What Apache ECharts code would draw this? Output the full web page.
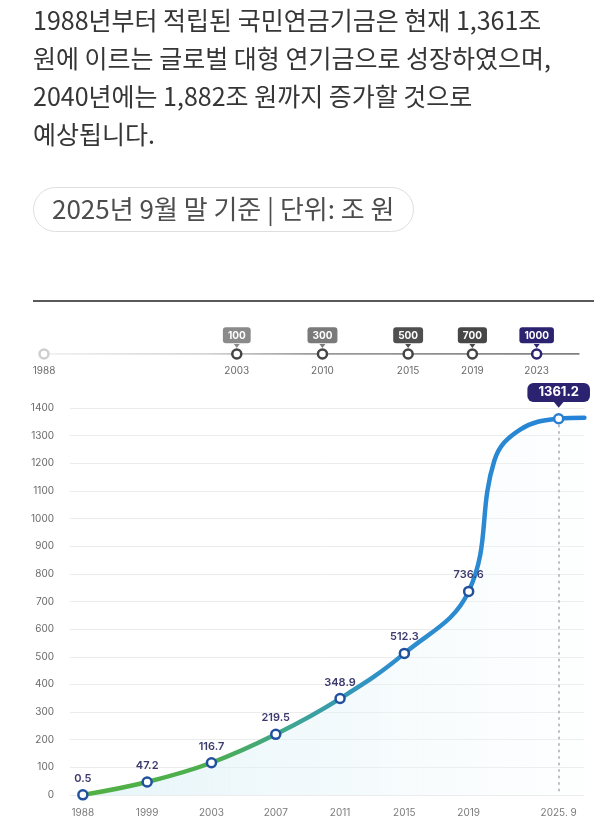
<!DOCTYPE html>
<html>
<head>
<meta charset="utf-8">
<script src="https://cdn.jsdelivr.net/npm/echarts@6/dist/echarts.min.js"></script>
<style>
  html, body { margin: 0; padding: 0; background: #fff; }
  #chart { width: 600px; height: 839px; }
</style>
</head>
<body>
<div id="chart"></div>
<script>
// 기금 적립금 (조 원)
var mainYears = ['1988', '1999', '2003', '2007', '2011', '2015', '2019', '2025. 9'];
var fundValues = [0.5, 47.2, 116.7, 219.5, 348.9, 512.3, 736.6, 1361.2];
var yearGaps = [5, 5, 5, 5, 5, 5, 7]; // 축 칸 수 (라벨 사이)
// 2019 이후 곡선 모양 (읽은 값)
var curveShape = [[33, 1210], [35, 1322], [40, 1365]];
var yTicks = [0, 1400, 100];

// 상단 타임라인
var milestoneYears = ['1988', '2003', '2010', '2015', '2019', '2023'];
var milestoneLabels = ['', '100', '300', '500', '700', '1000'];
var milestoneGaps = [9, 4, 4, 3, 3];
var badgeColors = ['#cccccc', '#8a8a8a', '#7a7a7a', '#4f4f4f', '#474747', '#2b2270'];

var textLines = [
	'1988년부터 적립된 국민연금기금은 현재 1,361조',
	'원에 이르는 글로벌 대형 연기금으로 성장하였으며,',
	'2040년에는 1,882조 원까지 증가할 것으로',
	'예상됩니다.'
];
var pillText = '2025년 9월 말 기준 | 단위: 조 원';

function buildCats(labels, gaps, lead, tail) {
	var cats = [];
	var idx = [];
	for (var i = 0; i < lead; i++) cats.push('');
	for (var j = 0; j < labels.length; j++) {
		idx.push(cats.length);
		cats.push(labels[j]);
		if (j < gaps.length) {
			for (var k = 1; k < gaps[j]; k++) cats.push('');
		}
	}
	for (var t = 0; t < tail; t++) cats.push('');
	return { cats: cats, idx: idx };
}

var mainAxis = buildCats(mainYears, yearGaps, 1, 2);
var lineAxis = buildCats(milestoneYears, milestoneGaps, 0, 2);

var linePoints = mainAxis.idx.map(function(x, i) { return [x, fundValues[i]]; })
	.concat(curveShape)
	.sort(function(a, b) { return a[0] - b[0]; });

var lastI = fundValues.length - 1;
var markerData = mainAxis.idx.map(function(x, i) {
	var item = { value: [x, fundValues[i]] };
	if (i === lastI) {
		item.itemStyle = { borderColor: '#2a7fd0' };
		item.label = {
			distance: 11,
			color: '#fff',
			fontSize: 13,
			fontWeight: 'bold',
			lineHeight: 13,
			backgroundColor: '#2b2270',
			borderRadius: 6,
			padding: [3, 11]
		};
	}
	return item;
});

var badgeData = lineAxis.idx.map(function(x, i) {
	var item = {
		value: [x, 0],
		itemStyle: { borderColor: i === 0 ? '#cfcfcf' : (i === lineAxis.idx.length - 1 ? '#2b2270' : '#444') }
	};
	if (milestoneLabels[i]) {
		item.label = { show: true, backgroundColor: badgeColors[i] };
	}
	return item;
});
var pointerData = [];
for (var p = 1; p < lineAxis.idx.length; p++) {
	pointerData.push({ value: [lineAxis.idx[p], 0], itemStyle: { color: badgeColors[p] } });
}

var graphics = textLines.map(function(t, i) {
	return {
		type: 'text', x: 33, y: 20 + i * 38,
		style: { text: t, font: '25px "Noto Sans CJK KR"', fill: '#363636', verticalAlign: 'middle' }
	};
});
graphics.push({
	type: 'rect',
	shape: { x: 33.5, y: 187.5, width: 380, height: 44, r: 22 },
	style: { fill: '#fff', stroke: '#dedede', lineWidth: 1 }
});
graphics.push({
	type: 'text', x: 52, y: 209,
	style: { text: pillText, font: '26px "Noto Sans CJK KR"', fill: '#4d4d4d', verticalAlign: 'middle' }
});
graphics.push({
	type: 'line',
	shape: { x1: 33, y1: 301, x2: 594, y2: 301 },
	style: { stroke: '#222', lineWidth: 1.6 }
});

var myChart = echarts.init(document.getElementById('chart'));

var option = {
	animation: false,
	textStyle: { fontFamily: 'Inter, "Noto Sans CJK KR", sans-serif' },
	graphic: graphics,
	grid: [
		{ left: 70, right: 15.6, top: 408, bottom: 44 },
		{ left: 44, right: 20.5, top: 344, height: 10 }
	],
	xAxis: [{
		type: 'category',
		gridIndex: 0,
		data: mainAxis.cats,
		boundaryGap: false,
		axisLine: { show: false },
		axisTick: { show: false },
		axisLabel: { interval: 0, color: '#7a7a7a', fontSize: 10, margin: 13 }
	}, {
		type: 'category',
		gridIndex: 1,
		data: lineAxis.cats,
		boundaryGap: false,
		axisLine: { show: false },
		axisTick: { show: false },
		axisLabel: { interval: 0, color: '#6a6a6a', fontSize: 10, margin: 12 }
	}],
	yAxis: [{
		type: 'value',
		gridIndex: 0,
		min: yTicks[0],
		max: yTicks[1],
		interval: yTicks[2],
		axisLine: { show: false },
		axisTick: { show: false },
		axisLabel: {
			color: '#6a6a6a', fontSize: 10, margin: 16,
			formatter: function(v) { return String(v); }
		},
		splitLine: { lineStyle: { color: '#ececec', width: 1 } }
	}, {
		type: 'value',
		gridIndex: 1,
		min: 0,
		max: 1,
		show: false
	}],
	series: [{
		// 기금 곡선
		type: 'line',
		xAxisIndex: 0,
		yAxisIndex: 0,
		data: linePoints,
		smooth: 0.4,
		symbol: 'none',
		silent: true,
		z: 2,
		lineStyle: {
			width: 4.5,
			cap: 'round',
			color: {
				type: 'linear', x: 0, y: 0, x2: 1, y2: 0,
				colorStops: [
					{ offset: 0, color: '#52b143' },
					{ offset: 0.26, color: '#4cae4f' },
					{ offset: 0.42, color: '#3ea594' },
					{ offset: 0.6, color: '#2f8fcc' },
					{ offset: 1, color: '#2483d8' }
				]
			}
		},
		areaStyle: {
			color: {
				type: 'linear', x: 0, y: 0, x2: 1, y2: 0,
				colorStops: [
					{ offset: 0, color: 'rgba(214,238,246,0.85)' },
					{ offset: 0.5, color: 'rgba(226,243,248,0.6)' },
					{ offset: 1, color: 'rgba(245,250,252,0.2)' }
				]
			}
		}
	}, {
		// 데이터 포인트
		type: 'scatter',
		xAxisIndex: 0,
		yAxisIndex: 0,
		data: markerData,
		symbol: 'circle',
		symbolSize: 9,
		z: 5,
		itemStyle: { color: '#fff', borderColor: '#21509e', borderWidth: 2.5, opacity: 1 },
		label: {
			show: true,
			position: 'top',
			distance: 5,
			color: '#3b3a6e',
			fontSize: 11,
			fontWeight: 600,
			formatter: function(params) {
				return fundValues[params.dataIndex];
			}
		},
		markLine: {
			silent: true,
			symbol: 'none',
			label: { show: false },
			lineStyle: { color: '#aaaaaa', type: [1.5, 5], width: 1.5, cap: 'round' },
			data: [[
				{ coord: [mainAxis.idx[lastI], fundValues[lastI]] },
				{ coord: [mainAxis.idx[lastI], 0] }
			]]
		}
	}, {
		// 말풍선 꼬리
		type: 'scatter',
		xAxisIndex: 0,
		yAxisIndex: 0,
		data: [[mainAxis.idx[lastI], fundValues[lastI]]],
		symbol: 'triangle',
		symbolRotate: 180,
		symbolSize: [10, 6],
		symbolOffset: [0, -14],
		silent: true,
		z: 4,
		itemStyle: { color: '#2b2270', opacity: 1 }
	}, {
		// 타임라인 선
		type: 'line',
		xAxisIndex: 1,
		yAxisIndex: 1,
		data: [[0, 0], [lineAxis.cats.length - 1, 0]],
		symbol: 'none',
		silent: true,
		lineStyle: {
			width: 1.5,
			color: {
				type: 'linear', x: 0, y: 0, x2: 1, y2: 0,
				colorStops: [
					{ offset: 0, color: '#ececec' },
					{ offset: 0.3, color: '#c8c8c8' },
					{ offset: 0.5, color: '#7a7a7a' },
					{ offset: 1, color: '#555' }
				]
			}
		}
	}, {
		// 타임라인 뱃지
		type: 'scatter',
		xAxisIndex: 1,
		yAxisIndex: 1,
		data: badgeData,
		symbol: 'circle',
		symbolSize: 9,
		z: 5,
		itemStyle: { color: '#fff', borderWidth: 2.5, opacity: 1 },
		label: {
			show: false,
			position: 'top',
			distance: 5,
			color: '#fff',
			fontSize: 10,
			fontWeight: 'bold',
			lineHeight: 11,
			padding: [3, 5, 2, 5],
			borderRadius: 3,
			formatter: function(params) {
				return milestoneLabels[params.dataIndex];
			}
		}
	}, {
		type: 'scatter',
		xAxisIndex: 1,
		yAxisIndex: 1,
		data: pointerData,
		symbol: 'triangle',
		symbolRotate: 180,
		symbolSize: [6, 4],
		symbolOffset: [0, -8],
		silent: true,
		z: 4,
		itemStyle: { opacity: 1 }
	}]
};

myChart.setOption(option);
</script>
</body>
</html>
